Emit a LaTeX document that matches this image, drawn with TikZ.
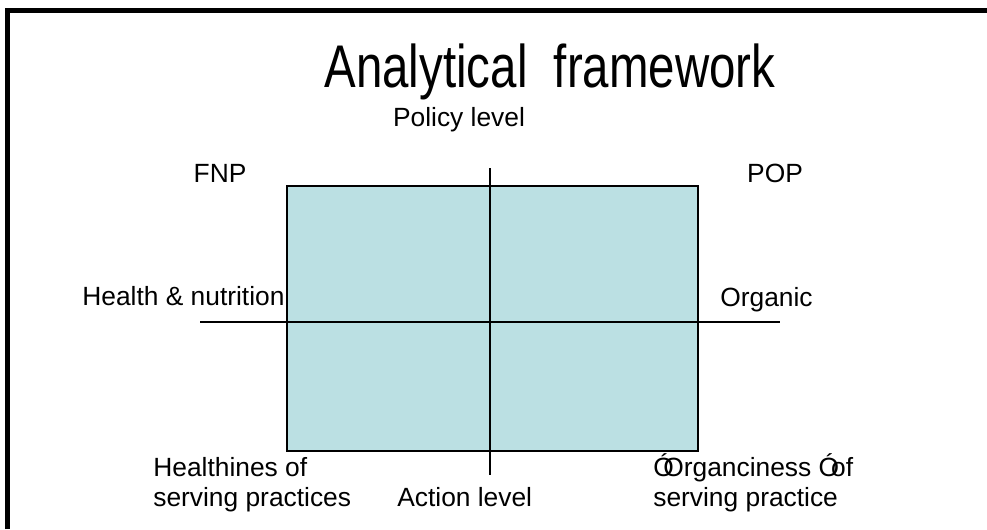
\documentclass[tikz,border=0pt]{standalone}
\usepackage{fontspec}
\setmainfont{Liberation Sans}
\usetikzlibrary{positioning}
\definecolor{quadfill}{HTML}{BBE0E3}
\tikzset{
  lbl/.style={font=\fontsize{15}{18}\selectfont,inner sep=0pt,anchor=base},
  axis/.style={draw,line width=1.2pt},
  quad/.style={draw,line width=1.2pt,fill=quadfill}
}

\begin{document}
\begin{tikzpicture}[x=0.02cm,y=-0.02cm]
  \useasboundingbox (0,0) rectangle (987,529);
  \draw[line width=3.2pt] (7.5,529) -- (7.5,10.5) -- (987,10.5);

  \node[font=\fontsize{27}{32}\selectfont,inner sep=0pt,anchor=base] (title) at (550,87)
    {\scalebox{1}[1.27]{Analytical\ \ framework}};

  \node[quad,minimum width=411*0.02cm,minimum height=265*0.02cm,inner sep=0pt] (box) at (492.5,318.5) {};
  \coordinate (vtop) at (490,168);
  \coordinate (vbot) at (490,475);
  \coordinate (hleft) at (200,322);
  \coordinate (hright) at (780,322);
  \draw[axis] (vtop) -- (vbot);
  \draw[axis] (hleft) -- (hright);

  \node[lbl] (policy) at (459,126) {Policy level};
  \node[lbl] (fnp) at (220,182) {FNP};
  \node[lbl] (pop) at (775,182) {POP};
  \node[lbl,anchor=base west] (health) at (82,305) {Health \& nutrition};
  \node[lbl,anchor=base west] (organic) at (720,306) {Organic};
  \node[lbl,anchor=base west] (hserv1) at (153,476) {Healthines of};
  \node[lbl,anchor=base west] (hserv2) at (153,506) {serving practices};
  \node[lbl,anchor=base west] (action) at (397,506) {Action level};
  \node[lbl,anchor=base west] (oserv1) at (653,476) {Ó\kern-0.4em Organciness Ó\kern-0.3em of};
  \node[lbl,anchor=base west] (oserv2) at (653,506) {serving practice};
\end{tikzpicture}
\end{document}
